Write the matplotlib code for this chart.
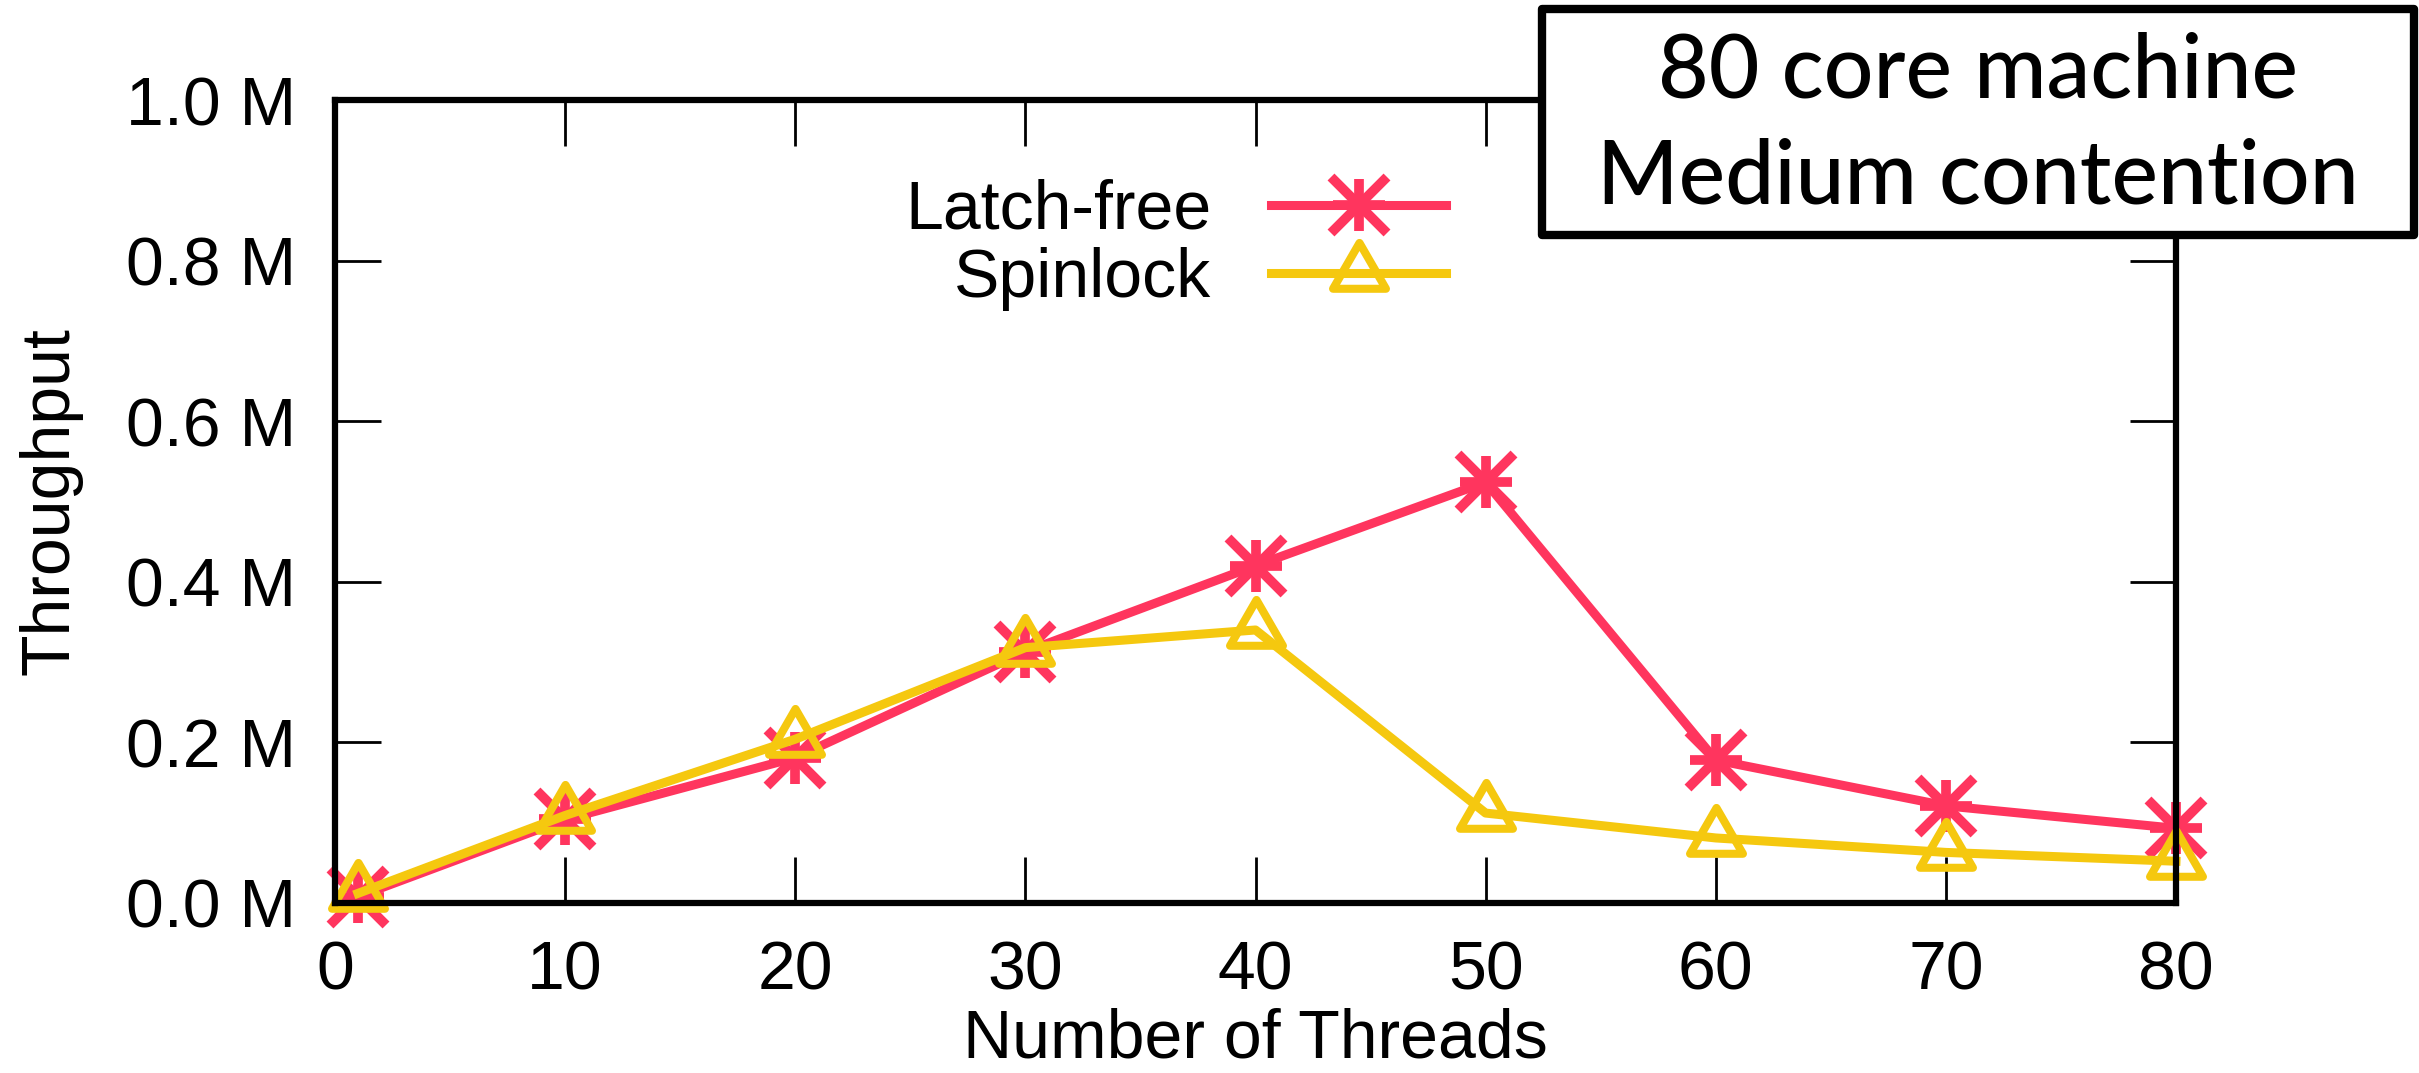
import matplotlib
matplotlib.use("Agg")
import matplotlib.pyplot as plt
from matplotlib.path import Path
from matplotlib.patches import Rectangle

# data
threads = [1, 10, 20, 30, 40, 50, 60, 70, 80]
latch_free = [0.008, 0.104, 0.181, 0.313, 0.420, 0.524, 0.178, 0.121, 0.093]
spinlock = [0.012, 0.109, 0.204, 0.318, 0.340, 0.112, 0.081, 0.063, 0.052]

x_ticks = [0, 10, 20, 30, 40, 50, 60, 70, 80]
y_ticks = [0.0, 0.2, 0.4, 0.6, 0.8, 1.0]
y_tick_labels = ["%.1f M" % v for v in y_ticks]

RED = "#FF355E"
YELLOW = "#F5C80F"
W, H = 2419, 1073

plt.rcParams["font.family"] = ["Liberation Sans", "DejaVu Sans"]

fig = plt.figure(figsize=(W / 100, H / 100), dpi=100)
ax = fig.add_axes([335 / W, 1 - 903 / H, (2176 - 335) / W, (903 - 100) / H])

# equilateral triangle centred on its centroid (gnuplot style)
tri = Path([(0, 1), (-0.866, -0.5), (0.866, -0.5), (0, 1)],
           [Path.MOVETO, Path.LINETO, Path.LINETO, Path.CLOSEPOLY])

l1, = ax.plot(threads, latch_free, color=RED, lw=6.5, marker="+", ms=37,
              mew=7, clip_on=False)
l1x, = ax.plot(threads, latch_free, color=RED, lw=0, marker="x", ms=41,
               mew=7, clip_on=False)
l2, = ax.plot(threads, spinlock, color=YELLOW, lw=6.5, marker=tri, ms=44,
              mew=5.8, mfc="none", mec=YELLOW, clip_on=False)

ax.set_xlim(0, 80)
ax.set_ylim(0, 1.0)
ax.set_xticks(x_ticks)
ax.set_yticks(y_ticks)
ax.set_yticklabels(y_tick_labels)
ax.tick_params(direction="in", length=33, width=2, labelsize=49,
               top=True, right=True)
ax.tick_params(axis="x", pad=26)
ax.tick_params(axis="y", pad=28)
for s in ax.spines.values():
    s.set_linewidth(4.5)

ax.set_xlabel("Number of Threads", fontsize=49, labelpad=3)
ax.set_ylabel("Throughput", fontsize=49, labelpad=31)

leg = ax.legend([(l1, l1x), l2], ["Latch-free", "Spinlock"],
                loc="center right", bbox_to_anchor=(1446 / W, 1 - 245 / H),
                bbox_transform=fig.transFigure, frameon=False, fontsize=49,
                markerfirst=False, handlelength=2.57, handletextpad=0.88,
                labelspacing=0.06, borderpad=0, borderaxespad=0)

# boxed annotation in the top right corner
fig.patches.append(Rectangle((1542 / W, 1 - 235 / H), (2414 - 1542) / W,
                             (235 - 9) / H, transform=fig.transFigure,
                             fill=True, facecolor="white", edgecolor="black",
                             lw=6, joinstyle="round", zorder=5))
fig.text(1978 / W, 1 - 97 / H, "80 core machine", fontsize=63,
         family="Lato", weight="medium", ha="center", va="baseline", zorder=6)
fig.text(1978 / W, 1 - 204 / H, "Medium contention", fontsize=63,
         family="Lato", weight="medium", ha="center", va="baseline", zorder=6)

fig.savefig("out.png", dpi=100)
